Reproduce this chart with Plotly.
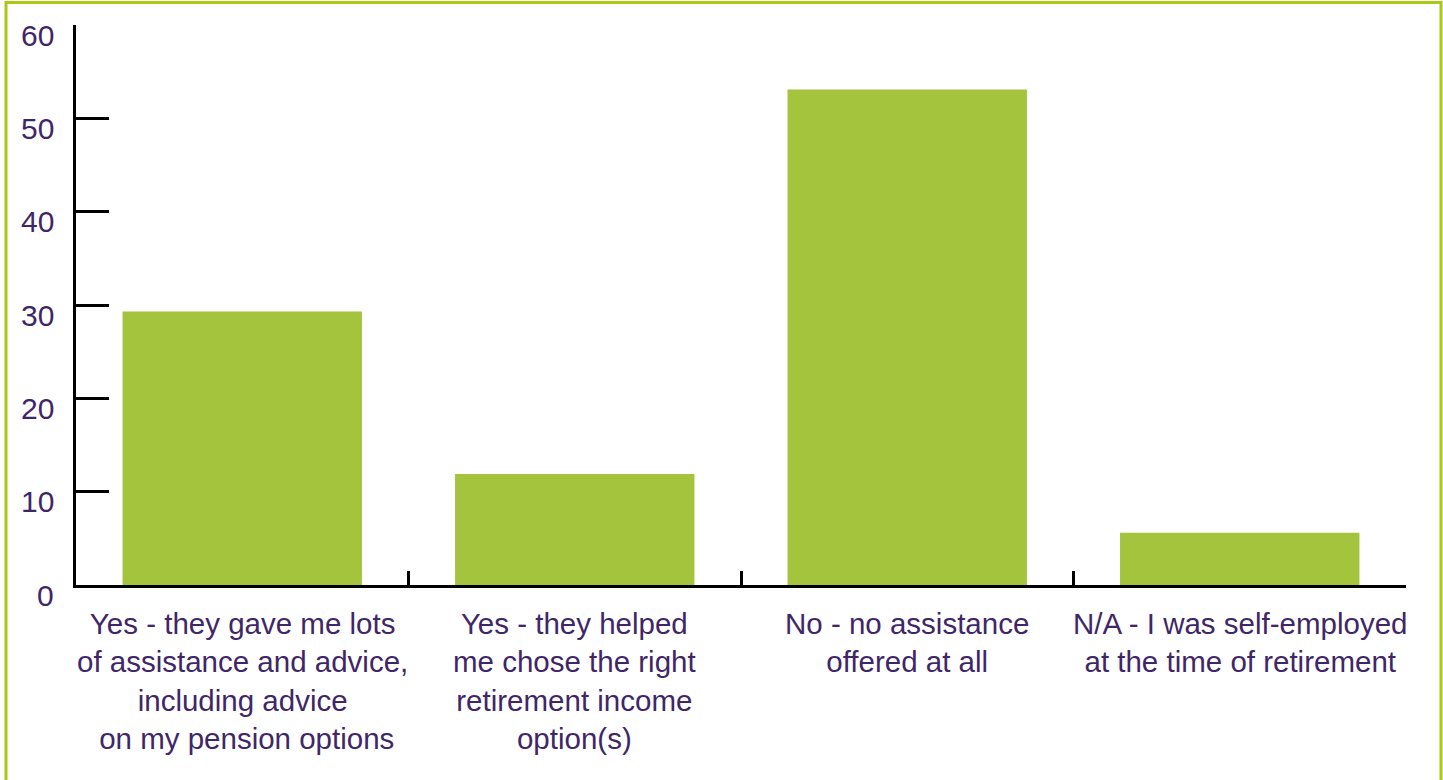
import plotly.graph_objects as go

# Survey responses (percent of respondents)
categories = [
    "Yes - they gave me lots<br>of assistance and advice,<br>including advice<br> on my pension options",
    "Yes - they helped<br>me chose the right<br>retirement income<br>option(s)",
    "No - no assistance<br>offered at all",
    "N/A - I was self-employed<br>at the time of retirement",
]
values = [29.3, 11.9, 53.1, 5.6]
y_ticks = [0, 10, 20, 30, 40, 50, 60]

BAR = "#a4c43d"
FRAME = "#aac814"
TEXT = "#3f2767"
FONT = "Liberation Sans, Arial, sans-serif"

W, H = 1443, 780
L, R, T, B = 76, 37, 24.5, 195
pw, ph = W - L - R, H - T - B

fig = go.Figure(go.Bar(
    x=list(range(len(categories))), y=values,
    marker=dict(color=BAR, line=dict(width=0)),
    width=0.72,
))

annotations = []
# y tick labels, sitting slightly below each tick
for v in y_ticks:
    annotations.append(dict(
        x=-0.5, y=v, xref="x", yref="y", text=str(v), showarrow=False,
        xanchor="right", yanchor="middle", xshift=-20, yshift=-10,
        font=dict(family=FONT, size=30, color=TEXT),
    ))
# category labels under each bar
for i, c in enumerate(categories):
    annotations.append(dict(
        x=i, y=0, xref="x", yref="y", text=c, showarrow=False,
        xanchor="center", yanchor="top", yshift=-20, align="center",
        font=dict(family=FONT, size=29.5, color=TEXT),
    ))

def px_x(p):
    return (p - L) / pw

def px_y(p):
    return (H - B - p) / ph

fig.update_layout(
    width=W, height=H,
    margin=dict(l=L, r=R, t=T, b=B),
    paper_bgcolor="white", plot_bgcolor="white",
    showlegend=False,
    xaxis=dict(
        range=[-0.5, 3.5], showgrid=False, zeroline=False,
        showline=True, linecolor="black", linewidth=2.5,
        tickmode="array", tickvals=[-0.5, 0.5, 1.5, 2.5, 3.5],
        ticktext=["", "", "", "", ""],
        ticks="inside", ticklen=14, tickwidth=2.5, tickcolor="black",
    ),
    yaxis=dict(
        range=[0, 60], showgrid=False, zeroline=False,
        showline=True, linecolor="black", linewidth=2.5,
        tickmode="array", tickvals=y_ticks, showticklabels=False,
        ticks="inside", ticklen=33, tickwidth=2.5, tickcolor="black",
    ),
    annotations=annotations,
    shapes=[dict(
        type="rect", xref="paper", yref="paper",
        x0=px_x(6), x1=px_x(1441), y0=px_y(800), y1=px_y(2),
        line=dict(color=FRAME, width=3), fillcolor="rgba(0,0,0,0)",
        layer="below",
    )],
)

fig.write_html("out.html")
